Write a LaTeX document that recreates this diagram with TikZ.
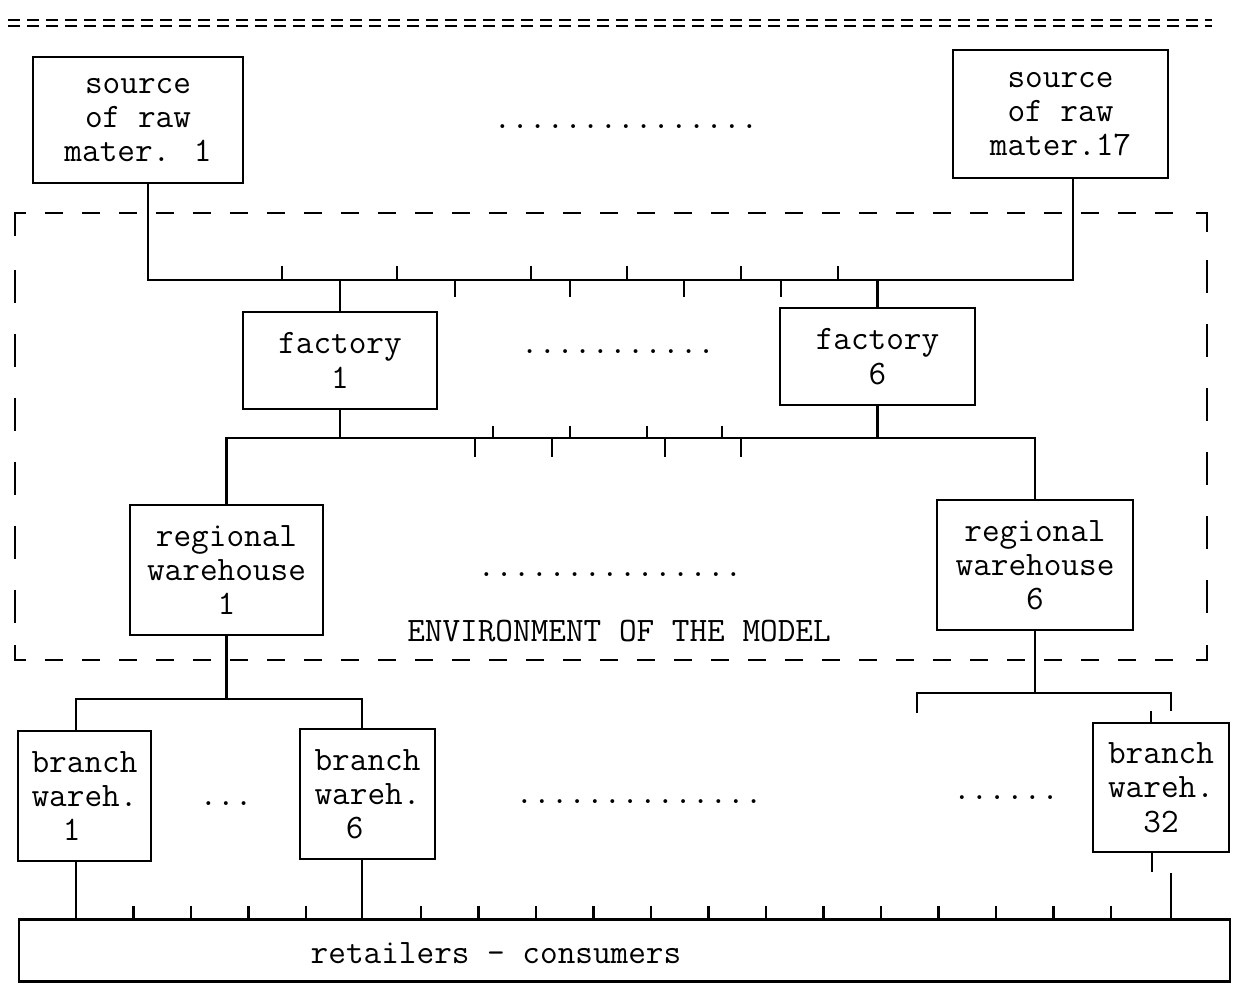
\documentclass[tikz,border=0pt]{standalone}
\usepackage{fontspec}
\newcommand\tyfont{\fontsize{19.5pt}{19.5pt}\selectfont\ttfamily}
\begin{document}
\begin{tikzpicture}[x=0.02cm,y=-0.02cm,line width=1.2pt,
  box/.style={draw,inner sep=0pt,align=center,font=\tyfont},
  lbl/.style={font=\tyfont,inner sep=0pt,anchor=base},
  dashh/.style={dash pattern=on 0.36cm off 0.38cm},
  dashv/.style={dash pattern=on 0.66cm off 0.62cm},
  dbl/.style={line width=0.9pt,dash pattern=on 0.25cm off 0.13cm}]
\useasboundingbox (0,0) rectangle (1246,985);

% top double rule
\draw[dbl] (8,20) -- (1212,20);
\draw[dbl] (8,26) -- (1212,26);

% boxes
\node[box,minimum width=4.2cm,minimum height=2.52cm] (src1) at (138,120) {source\\of raw\\mater. 1};
\node[box,minimum width=4.3cm,minimum height=2.56cm] (src17) at (1060.5,114) {source\\of raw\\mater.17};
\node[box,minimum width=3.88cm,minimum height=1.94cm] (fac1) at (340,360.5) {factory\\1};
\node[box,minimum width=3.9cm,minimum height=1.94cm] (fac6) at (877.5,356.5) {factory\\6};
\node[box,minimum width=3.86cm,minimum height=2.6cm] (reg1) at (226.5,570) {regional\\warehouse\\1};
\node[box,minimum width=3.92cm,minimum height=2.6cm] (reg6) at (1035,565) {regional\\warehouse\\6};
\node[box,minimum width=2.66cm,minimum height=2.6cm] (br1) at (84.5,796) {branch\\wareh.\\1\hbox to 0.75em{}};
\node[box,minimum width=2.7cm,minimum height=2.6cm] (br6) at (367.5,794) {branch\\wareh.\\6\hbox to 0.75em{}};
\node[box,minimum width=2.72cm,minimum height=2.58cm] (br32) at (1161,787.5) {branch\\wareh.\\32};
\node[draw,inner sep=0pt,minimum width=24.22cm,minimum height=1.24cm] (ret) at (624.5,950.5) {};
\node[lbl] (rettext) at (496,963) {retailers - consumers};

% dots and labels
\node[lbl] (dots1) at (626,128) {...............};
\node[lbl] (dots2) at (618,353) {...........};
\node[lbl] (dots3) at (610,576) {...............};
\node[lbl] (dots4) at (226,805) {...};
\node[lbl] (dots5) at (639,803) {..............};
\node[lbl] (dots6) at (1006,799) {......};
\node[lbl] (env) at (619,641) {ENVIRONMENT OF THE MODEL};

% environment frame
\draw (15,236) -- (15,213) -- (26,213);
\draw[dashh] (45,213) -- (1185,213);
\draw (1196,213) -- (1207,213) -- (1207,232);
\draw[dashv] (1207,260) -- (1207,620);
\draw (1207,645) -- (1207,660) -- (1196,660);
\draw[dashh] (45,660) -- (1185,660);
\draw (26,660) -- (15,660) -- (15,645);
\draw[dashv] (15,270) -- (15,625);

% sources -> factories
\coordinate (t1L) at (148,280);
\coordinate (t1R) at (1073,280);
\draw (src1.south -| t1L) -- (t1L) -- (t1R) -- (src17.south -| t1R);
\draw (fac1.north) -- (fac1.north |- t1L);
\draw (fac6.north) -- (fac6.north |- t1L);
\foreach \x in {282,397,531,627,741,838} \draw (\x,280) -- (\x,266);
\foreach \x in {455,570,684,781} \draw (\x,280) -- (\x,297);

% factories -> regional warehouses
\coordinate (t2L) at (226.5,438);
\coordinate (t2R) at (1035,438);
\draw (reg1.north) -- (t2L) -- (t2R) -- (reg6.north);
\draw (fac1.south) -- (fac1.south |- t2L);
\draw (fac6.south) -- (fac6.south |- t2L);
\foreach \x in {493,570,647,722} \draw (\x,438) -- (\x,426);
\foreach \x in {475,552,665,741} \draw (\x,438) -- (\x,457);

% regional 1 -> branches
\coordinate (t3L) at (76,699);
\coordinate (t3R) at (362,699);
\draw (br1.north -| t3L) -- (t3L) -- (t3R) -- (br6.north -| t3R);
\draw (reg1.south) -- (reg1.south |- t3L);

% regional 6 -> branches
\coordinate (t4L) at (917,693);
\coordinate (t4R) at (1171,693);
\coordinate (t4Le) at (917,713);
\coordinate (t4Re) at (1171,711);
\draw (t4Le) -- (t4L) -- (t4R) -- (t4Re);
\draw (reg6.south) -- (reg6.south |- t4L);
\coordinate (s32) at (1151,711);
\draw (s32) -- (s32 |- br32.north);

% branches -> retailers
\draw (br1.south -| t3L) -- (t3L |- ret.north);
\draw (br6.south -| t3R) -- (t3R |- ret.north);
\coordinate (s32b) at (1152,872);
\draw (br32.south -| s32b) -- (s32b);
\coordinate (r32) at (1171,873);
\draw (r32) -- (r32 |- ret.north);
\foreach \k in {1,2,3,4,6,7,8,9,10,11,12,13,14,15,16,17,18}
  \draw ({76+57.5*\k},919.5) -- ({76+57.5*\k},906);
\end{tikzpicture}
\end{document}
